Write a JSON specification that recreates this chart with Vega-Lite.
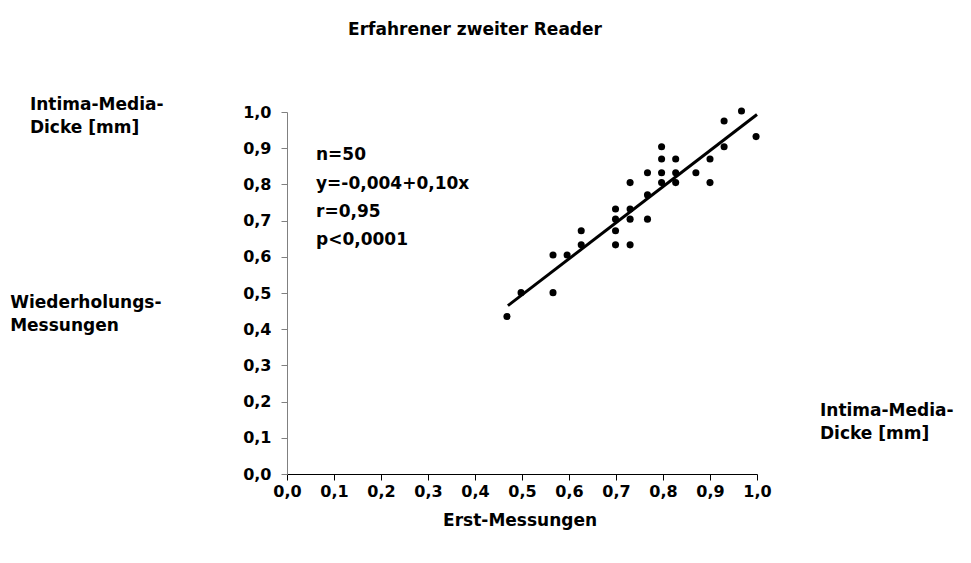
{
  "$schema": "https://vega.github.io/schema/vega-lite/v6.json",
  "width": 470,
  "height": 362,
  "autosize": {"type": "none"},
  "padding": {"left": 287, "top": 112, "right": 214, "bottom": 89},
  "background": "white",
  "config": {
    "view": {"stroke": null},
    "font": "DejaVu Sans",
    "axis": {"grid": false, "labelFont": "DejaVu Sans", "labelFontWeight": "bold", "labelFontSize": 16, "labelColor": "black", "title": null, "labelOverlap": false, "labelFlush": false, "tickSize": 6},
    "axisX": {"domainColor": "black", "tickColor": "black", "labelPadding": 3, "values": [0,0.1,0.2,0.3,0.4,0.5,0.6,0.7,0.8,0.9,1.0], "labelExpr": "replace(format(datum.value, '.1f'), '.', ',')"},
    "axisY": {"domainColor": "#808080", "tickColor": "#808080", "labelPadding": 10, "values": [0,0.1,0.2,0.3,0.4,0.5,0.6,0.7,0.8,0.9,1.0], "labelExpr": "replace(format(datum.value, '.1f'), '.', ',')"}
  },
  "datasets": {
    "points": [
      {"erst": 0.468, "wdh": 0.435},
      {"erst": 0.498, "wdh": 0.501},
      {"erst": 0.566, "wdh": 0.605},
      {"erst": 0.566, "wdh": 0.501},
      {"erst": 0.596, "wdh": 0.605},
      {"erst": 0.626, "wdh": 0.672},
      {"erst": 0.626, "wdh": 0.633},
      {"erst": 0.699, "wdh": 0.732},
      {"erst": 0.699, "wdh": 0.704},
      {"erst": 0.699, "wdh": 0.672},
      {"erst": 0.699, "wdh": 0.633},
      {"erst": 0.730, "wdh": 0.805},
      {"erst": 0.730, "wdh": 0.732},
      {"erst": 0.730, "wdh": 0.704},
      {"erst": 0.730, "wdh": 0.633},
      {"erst": 0.767, "wdh": 0.832},
      {"erst": 0.767, "wdh": 0.771},
      {"erst": 0.767, "wdh": 0.704},
      {"erst": 0.797, "wdh": 0.904},
      {"erst": 0.797, "wdh": 0.870},
      {"erst": 0.797, "wdh": 0.832},
      {"erst": 0.797, "wdh": 0.805},
      {"erst": 0.827, "wdh": 0.870},
      {"erst": 0.827, "wdh": 0.832},
      {"erst": 0.827, "wdh": 0.805},
      {"erst": 0.870, "wdh": 0.832},
      {"erst": 0.900, "wdh": 0.870},
      {"erst": 0.900, "wdh": 0.805},
      {"erst": 0.930, "wdh": 0.975},
      {"erst": 0.930, "wdh": 0.904},
      {"erst": 0.967, "wdh": 1.003},
      {"erst": 0.998, "wdh": 0.932}
    ],
    "fit": [
      {"erst": 0.47, "wdh": 0.465},
      {"erst": 1.0, "wdh": 0.993}
    ],
    "leftlabels": [
      {"erst": 0.0617, "wdh": 0.881, "text": "n=50"},
      {"erst": 0.0617, "wdh": 0.801, "text": "y=-0,004+0,10x"},
      {"erst": 0.0617, "wdh": 0.724, "text": "r=0,95"},
      {"erst": 0.0617, "wdh": 0.646, "text": "p<0,0001"},
      {"erst": -0.547, "wdh": 1.019, "text": "Intima-Media-"},
      {"erst": -0.547, "wdh": 0.956, "text": "Dicke [mm]"},
      {"erst": -0.589, "wdh": 0.472, "text": "Wiederholungs-"},
      {"erst": -0.589, "wdh": 0.409, "text": "Messungen"},
      {"erst": 1.134, "wdh": 0.174, "text": "Intima-Media-"},
      {"erst": 1.134, "wdh": 0.110, "text": "Dicke [mm]"}
    ],
    "centerlabels": [
      {"erst": 0.496, "wdh": -0.130, "text": "Erst-Messungen"},
      {"erst": 0.40, "wdh": 1.227, "text": "Erfahrener zweiter Reader"}
    ]
  },
  "encoding": {
    "x": {"field": "erst", "type": "quantitative", "scale": {"domain": [0, 1], "nice": false, "zero": false}},
    "y": {"field": "wdh", "type": "quantitative", "scale": {"domain": [0, 1], "nice": false, "zero": false}}
  },
  "layer": [
    {
      "data": {"name": "points"},
      "mark": {"type": "point", "filled": true, "color": "black", "opacity": 1, "size": 50}
    },
    {
      "data": {"name": "fit"},
      "mark": {"type": "line", "color": "black", "strokeWidth": 3}
    },
    {
      "data": {"name": "leftlabels"},
      "mark": {"type": "text", "fontSize": 17, "fontWeight": "bold", "color": "black", "baseline": "middle", "align": "left", "font": "DejaVu Sans"},
      "encoding": {"text": {"field": "text"}}
    },
    {
      "data": {"name": "centerlabels"},
      "mark": {"type": "text", "fontSize": 17, "fontWeight": "bold", "color": "black", "baseline": "middle", "align": "center", "font": "DejaVu Sans"},
      "encoding": {"text": {"field": "text"}}
    }
  ]
}
